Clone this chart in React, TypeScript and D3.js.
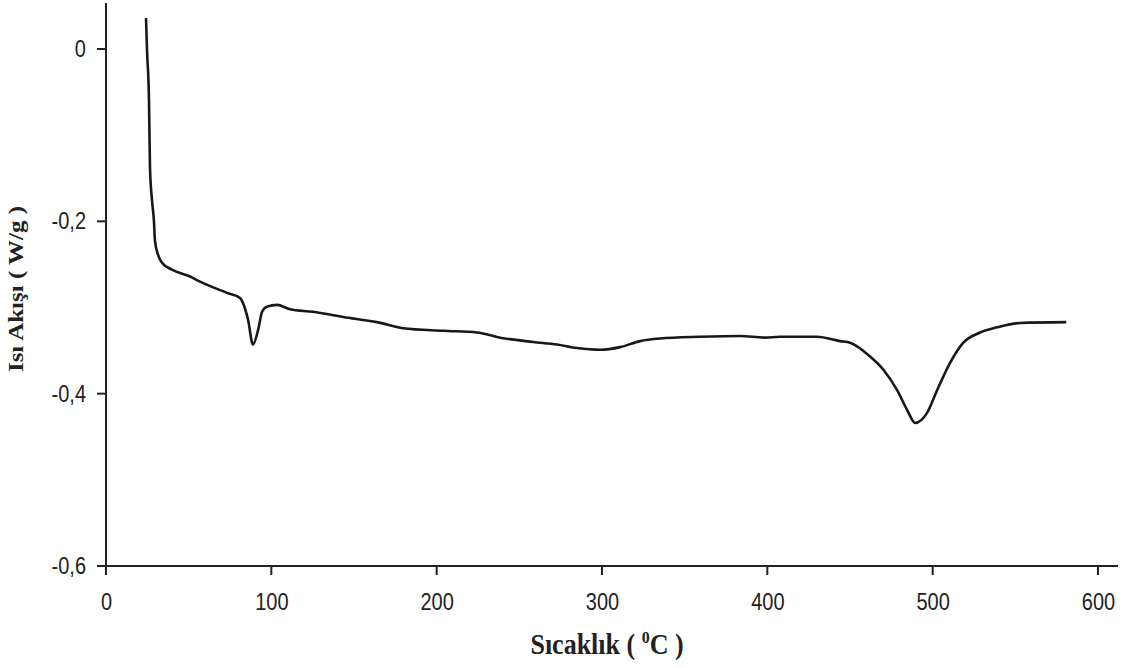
import React, { useEffect, useRef } from 'react';
import * as d3 from 'd3';

// temperature (°C) and heat flow (W/g)
const temps = [
  24.2, 24.8, 26.0, 26.6, 27.8, 29.0, 29.6, 31.5, 33.9, 39.9, 50.8, 56.9, 73.2, 81.1, 82.9,
  85.9, 88.9, 92.0, 94.4, 97.4, 103.4, 111.3, 125.2, 143.4, 163.9, 179.7, 203.9, 224.4, 238.4,
  258.3, 272.8, 284.9, 298.9, 311.0, 323.0, 335.1, 359.3, 383.5, 398.7, 407.7, 430.1, 444.0,
  450.1, 462.2, 470.1, 478.5, 484.6, 489.4, 496.7, 502.7, 510.6, 518.4, 528.7, 539.0, 552.9,
  580.8,
];
const heatFlow = [
  0.036, -0.001, -0.059, -0.137, -0.175, -0.2, -0.222, -0.239, -0.248, -0.256, -0.264, -0.27,
  -0.283, -0.289, -0.295, -0.314, -0.343, -0.326, -0.305, -0.299, -0.297, -0.302, -0.305, -0.311,
  -0.317, -0.324, -0.327, -0.329, -0.335, -0.34, -0.343, -0.347, -0.349, -0.346, -0.339, -0.336,
  -0.334, -0.333, -0.335, -0.334, -0.334, -0.339, -0.341, -0.357, -0.372, -0.396, -0.419, -0.434,
  -0.422, -0.396, -0.364, -0.341, -0.329, -0.323, -0.318, -0.317,
];
const xTicks = [0, 100, 200, 300, 400, 500, 600];
const yTicks = [0, -0.2, -0.4, -0.6];
const yTickLabels = ['0', '-0,2', '-0,4', '-0,6'];

const width = 1128,
  height = 668;

const App = () => {
  const ref = useRef(null);

  useEffect(() => {
    const svg = d3.select(ref.current);
    svg.selectAll('*').remove();

    const x = d3.scaleLinear().domain([0, 600]).range([106, 1098]);
    const y = d3.scaleLinear().domain([0, -0.6]).range([49, 566]);
    const tickFont = "'Liberation Sans', Arial, sans-serif";
    const titleFont = "'Liberation Serif', 'Times New Roman', serif";

    // axes lines
    svg.append('line').attr('x1', 106).attr('x2', 106).attr('y1', 3).attr('y2', 566)
      .attr('stroke', '#222').attr('stroke-width', 2);
    svg.append('line').attr('x1', 106).attr('x2', 1118).attr('y1', 566).attr('y2', 566)
      .attr('stroke', '#222').attr('stroke-width', 2);

    // y ticks
    yTicks.forEach((t, i) => {
      svg.append('line').attr('x1', 97).attr('x2', 106).attr('y1', y(t)).attr('y2', y(t))
        .attr('stroke', '#222').attr('stroke-width', 2);
      svg.append('text').attr('transform', 'translate(86,' + (y(t) + 8) + ')scale(1,1.17)')
        .attr('text-anchor', 'end').style('font-family', tickFont).style('font-size', '20px')
        .style('fill', '#222').text(yTickLabels[i]);
    });

    // x ticks
    xTicks.forEach((t) => {
      svg.append('line').attr('x1', x(t)).attr('x2', x(t)).attr('y1', 566).attr('y2', 575)
        .attr('stroke', '#222').attr('stroke-width', 2);
      svg.append('text').attr('transform', 'translate(' + (x(t) + 0.5) + ',610)scale(1,1.17)')
        .attr('text-anchor', 'middle').style('font-family', tickFont).style('font-size', '20px')
        .style('fill', '#222').text(t);
    });

    // the curve
    const pts = temps.map((t, i) => [t, heatFlow[i]]);
    const line = d3.line().x((d) => x(d[0])).y((d) => y(d[1])).curve(d3.curveMonotoneX);
    svg.append('path').attr('d', line(pts)).attr('fill', 'none')
      .attr('stroke', '#151a15').attr('stroke-width', 2.6).attr('stroke-linejoin', 'round');

    // axis titles
    const xt = svg.append('text').attr('transform', 'translate(607,654)scale(1,1.1)')
      .attr('text-anchor', 'middle').style('font-family', titleFont).style('font-weight', 'bold')
      .style('font-size', '26px').style('fill', '#222');
    xt.append('tspan').text('Sıcaklık ( ');
    xt.append('tspan').attr('dy', -10).style('font-size', '16px').text('0');
    xt.append('tspan').attr('dy', 10).text('C )');

    svg.append('text').attr('transform', 'translate(23,289)rotate(-90)scale(1.25,1)')
      .attr('text-anchor', 'middle').style('font-family', titleFont)
      .style('font-weight', 'bold').style('font-size', '20px').style('fill', '#222')
      .text('Isı Akışı ( W/g )');
  }, []);

  return (
    <svg
      ref={ref}
      width={width}
      height={height}
      style={{ position: 'absolute', left: 0, top: 0, background: '#fff' }}
    />
  );
};

export default App;
